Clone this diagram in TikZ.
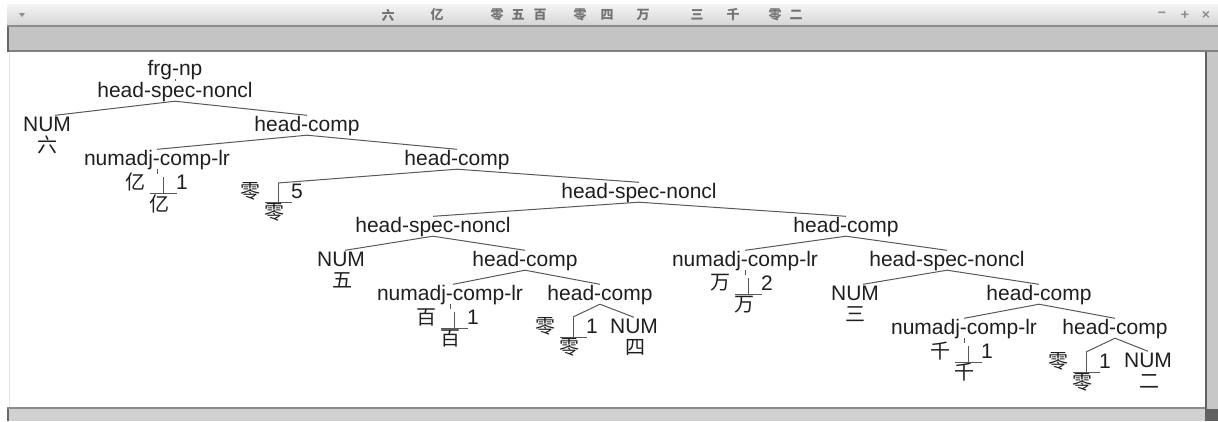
\documentclass[tikz,border=0pt]{standalone}
\usepackage{fontspec}
\setmainfont{Liberation Sans}
\newfontfamily\cjk{Noto Sans CJK SC}
\usetikzlibrary{calc}
\newcommand\mylex[6]{% #1 name, #2 X, #3 T, #4 vertical length, #5 char, #6 number
  \coordinate (#1t) at (#2,#3);
  \coordinate (#1b) at (#2,#3+#4);
  \node[hz] (#1u) at (#2-28,#3+#4-11) {#5};
  \node[numlbl] (#1n) at (#2+19,#3+#4-11) {#6};
  \node[hz] (#1d) at (#2-4,#3+#4+10.5) {#5};
  \draw[edge] (#1t) -- (#1b);
  \draw[edge] ([xshift=-13pt]#1b) -- ([xshift=14pt]#1b);
}
\begin{document}
\begin{tikzpicture}[x=1pt,y=-1pt,
  lbl/.style={anchor=base, inner sep=0pt, text height=15.5pt, text depth=4pt, font=\fontsize{21}{24}\selectfont, text=black!88},
  hz/.style={anchor=center, inner sep=0pt, font=\cjk\fontsize{20}{22}\selectfont, text=black!88},
  numlbl/.style={anchor=center, inner sep=0pt, font=\fontsize{21}{24}\selectfont, text=black!88},
  edge/.style={draw=black!65, line width=1pt},
  ttl/.style={inner sep=0pt, font=\cjk\bfseries\fontsize{13}{13}\selectfont, text=black!55},
  icon/.style={inner sep=0pt, font=\bfseries\fontsize{14}{14}\selectfont, text=black!45}
]
\useasboundingbox (0,0) rectangle (1218,421);
\fill[white] (0,0) rectangle (1218,421);
% window chrome
\shade[top color=white!96!black, bottom color=white!84!black] (7,4) rectangle (1218,25);
\fill[black!45] (7,25) rectangle (1218,27);
\fill[black!23] (7,27) rectangle (1218,50);
\fill[black!50] (7,50) rectangle (1218,52);
\fill[black!60] (7,27) rectangle (8.5,52);
\fill[black!10] (8.5,52) rectangle (10,407);
\fill[black!22] (1207,52) rectangle (1218,409);
\fill[black!62] (1205,52) rectangle (1207,409);
\fill[black!45] (7,407) rectangle (1205,409);
\fill[black!18] (7,409) rectangle (1205,421);
\fill[black!60] (7,409) rectangle (8.5,421);
\fill[black!62] (1205,409) rectangle (1218,421);
\fill[black!45] (19,13) -- (25,13) -- (22,17) -- cycle;
\node[icon] (imin) at (1162,15) {−};
\node[icon] (iplus) at (1185,15) {+};
\node[icon] (iclose) at (1206,15) {×};
\foreach \c/\x in {六/388, 亿/437, 零/497, 五/518, 百/540, 零/580, 四/607, 万/643, 三/697, 千/733, 零/775, 二/796}
  \node[ttl] (t\x) at (\x,15) {\c};
% tree nodes
\node[lbl] (frg) at (175,75) {frg-np};
\node[lbl] (hsn1) at (175,97) {head-spec-noncl};
\node[lbl] (num1) at (47,131) {NUM};
\node[hz] (c1) at (47,145) {六};
\node[lbl] (hc1) at (307,131) {head-comp};
\node[lbl] (na1) at (157,165) {numadj-comp-lr};
\node[lbl] (hc2) at (457,165) {head-comp};
\mylex{l1}{163}{177}{16}{亿}{1}
\mylex{l2}{278}{183}{19}{零}{5}
\node[lbl] (hsn2) at (639,198) {head-spec-noncl};
\node[lbl] (hsn3) at (433,232) {head-spec-noncl};
\node[lbl] (hc5) at (846,232) {head-comp};
\node[lbl] (num2) at (341,266) {NUM};
\node[hz] (c2) at (342,280) {五};
\node[lbl] (hc3) at (525,266) {head-comp};
\node[lbl] (na3) at (745,266) {numadj-comp-lr};
\node[lbl] (hsn4) at (947,266) {head-spec-noncl};
\node[lbl] (na2) at (450,300) {numadj-comp-lr};
\node[lbl] (hc4) at (600,300) {head-comp};
\node[lbl] (num4) at (855,300) {NUM};
\node[hz] (c4) at (855,314) {三};
\node[lbl] (hc6) at (1039,300) {head-comp};
\mylex{l3}{454}{312}{16}{百}{1}
\mylex{l4}{573}{317}{20}{零}{1}
\mylex{l5}{748}{278}{16}{万}{2}
\node[lbl] (num3) at (634,333) {NUM};
\node[hz] (c3) at (635,347) {四};
\node[lbl] (na4) at (964,334) {numadj-comp-lr};
\node[lbl] (hc7) at (1115,334) {head-comp};
\mylex{l6}{968}{346}{16}{千}{1}
\mylex{l7}{1086}{352}{20}{零}{1}
\node[lbl] (num5) at (1148,367) {NUM};
\node[hz] (c5) at (1149,382) {二};
% connectors
\draw[edge] (frg.south) -- (hsn1.north);
\draw[edge] (hsn1.south) -- ([xshift=8pt]num1.north);
\draw[edge] (hsn1.south) -- (hc1.north);
\draw[edge] (hc1.south) -- (na1.north);
\draw[edge] (hc1.south) -- (hc2.north);
\draw[edge] (na1.south) -- ++(0,5);
\draw[edge] (hc2.south) -- (l2t);
\draw[edge] (hc2.south) -- (hsn2.north);
\draw[edge] (hsn2.south) -- (hsn3.north);
\draw[edge] (hsn2.south) -- (hc5.north);
\draw[edge] (hsn3.south) -- ([xshift=4pt]num2.north);
\draw[edge] (hsn3.south) -- (hc3.north);
\draw[edge] (hc3.south) -- ([xshift=3pt]na2.north);
\draw[edge] (hc3.south) -- (hc4.north);
\draw[edge] (na2.south) -- ++(0,5);
\draw[edge] (hc4.south) -- (l4t);
\draw[edge] (hc4.south) -- (num3.north);
\draw[edge] (hc5.south) -- (na3.north);
\draw[edge] (hc5.south) -- (hsn4.north);
\draw[edge] (na3.south) -- ++(0,5);
\draw[edge] (hsn4.south) -- ([xshift=8pt]num4.north);
\draw[edge] (hsn4.south) -- (hc6.north);
\draw[edge] (hc6.south) -- (na4.north);
\draw[edge] (hc6.south) -- (hc7.north);
\draw[edge] (na4.south) -- ++(0,5);
\draw[edge] (hc7.south) -- (l7t);
\draw[edge] (hc7.south) -- (num5.north);
\end{tikzpicture}
\end{document}
